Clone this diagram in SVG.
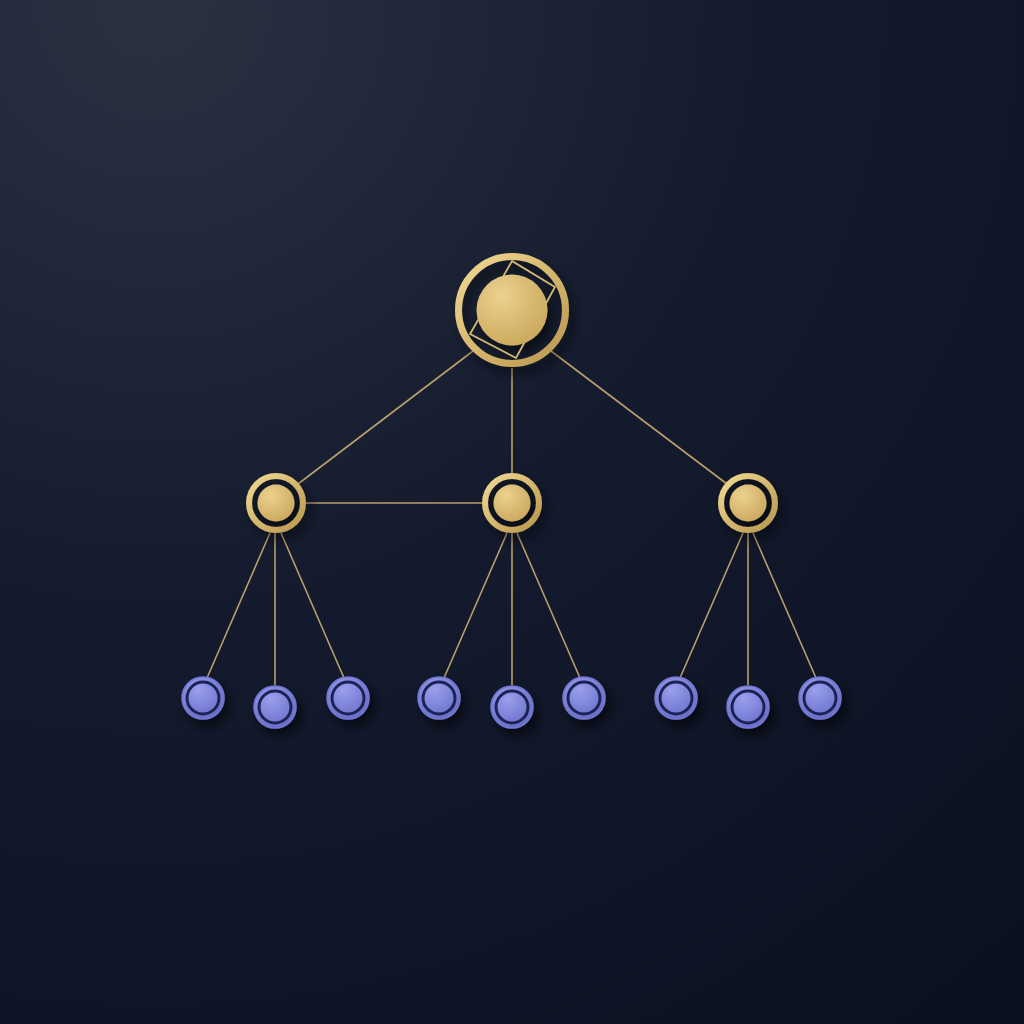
<svg xmlns="http://www.w3.org/2000/svg" width="1024" height="1024" viewBox="0 0 1024 1024">
<defs>
<radialGradient id="bg" cx="0.15" cy="0" r="1.3">
<stop offset="0" stop-color="#2a3242"/>
<stop offset="0.45" stop-color="#141b2e"/>
<stop offset="1" stop-color="#0b1020"/>
</radialGradient>
<linearGradient id="gold" x1="0" y1="0" x2="1" y2="1">
<stop offset="0" stop-color="#f0d893"/>
<stop offset="0.5" stop-color="#d6b86e"/>
<stop offset="1" stop-color="#b8964f"/>
</linearGradient>
<radialGradient id="goldDisc" cx="0.35" cy="0.3" r="0.8">
<stop offset="0" stop-color="#ecd18e"/>
<stop offset="1" stop-color="#c9a65a"/>
</radialGradient>
<radialGradient id="blue" cx="0.4" cy="0.3" r="0.8">
<stop offset="0" stop-color="#9aa0ec"/>
<stop offset="1" stop-color="#6268c4"/>
</radialGradient>
<filter id="sh" x="-50%" y="-50%" width="200%" height="200%">
<feDropShadow dx="5" dy="7" stdDeviation="6" flood-color="#000" flood-opacity="0.6"/>
</filter>
</defs>
<style>
.ln{stroke:#b9a06c;stroke-width:1.6;fill:none}
.ring{fill:none;stroke:url(#gold)}
.leaf{fill:url(#blue);stroke:#7378d2;stroke-width:1.5}
.leafring{fill:none;stroke:#1f2455;stroke-width:3}
.sq{fill:none;stroke:#d9bd74;stroke-width:1.6}
</style>
<rect width="1024" height="1024" fill="url(#bg)"/>
<g id="connectors">
<line class="ln" x1="473" y1="351" x2="298" y2="484"/>
<line class="ln" x1="512" y1="368" x2="512" y2="473"/>
<line class="ln" x1="551" y1="351" x2="727" y2="484"/>
<line class="ln" x1="305" y1="503" x2="482" y2="503"/>
<line class="ln" x1="270" y1="533" x2="207" y2="678"/>
<line class="ln" x1="275" y1="533" x2="275" y2="685"/>
<line class="ln" x1="281" y1="533" x2="344" y2="678"/>
<line class="ln" x1="507" y1="533" x2="444" y2="678"/>
<line class="ln" x1="512" y1="533" x2="512" y2="685"/>
<line class="ln" x1="517" y1="533" x2="580" y2="678"/>
<line class="ln" x1="743" y1="533" x2="680" y2="678"/>
<line class="ln" x1="748" y1="533" x2="748" y2="685"/>
<line class="ln" x1="753" y1="533" x2="816" y2="678"/>
</g>
<g id="root" filter="url(#sh)">
<circle cx="512" cy="310" r="53.5" class="ring" stroke-width="7"/>
<polygon class="sq" points="512,261 555,287 516,358 470,334"/>
<circle cx="512" cy="310" r="35.5" fill="url(#goldDisc)"/>
</g>
<g id="mid-left" filter="url(#sh)">
<circle cx="276" cy="503" r="27" class="ring" stroke-width="6"/>
<circle cx="276" cy="503" r="18.5" fill="url(#goldDisc)"/>
</g>
<g id="mid-center" filter="url(#sh)">
<circle cx="512" cy="503" r="27" class="ring" stroke-width="6"/>
<circle cx="512" cy="503" r="18.5" fill="url(#goldDisc)"/>
</g>
<g id="mid-right" filter="url(#sh)">
<circle cx="748" cy="503" r="27" class="ring" stroke-width="6"/>
<circle cx="748" cy="503" r="18.5" fill="url(#goldDisc)"/>
</g>
<g id="leaf-1" filter="url(#sh)"><circle cx="203" cy="698" r="21" class="leaf"/><circle cx="203" cy="698" r="16" class="leafring"/></g>
<g id="leaf-2" filter="url(#sh)"><circle cx="275" cy="707" r="21" class="leaf"/><circle cx="275" cy="707" r="16" class="leafring"/></g>
<g id="leaf-3" filter="url(#sh)"><circle cx="348" cy="698" r="21" class="leaf"/><circle cx="348" cy="698" r="16" class="leafring"/></g>
<g id="leaf-4" filter="url(#sh)"><circle cx="439" cy="698" r="21" class="leaf"/><circle cx="439" cy="698" r="16" class="leafring"/></g>
<g id="leaf-5" filter="url(#sh)"><circle cx="512" cy="707" r="21" class="leaf"/><circle cx="512" cy="707" r="16" class="leafring"/></g>
<g id="leaf-6" filter="url(#sh)"><circle cx="584" cy="698" r="21" class="leaf"/><circle cx="584" cy="698" r="16" class="leafring"/></g>
<g id="leaf-7" filter="url(#sh)"><circle cx="676" cy="698" r="21" class="leaf"/><circle cx="676" cy="698" r="16" class="leafring"/></g>
<g id="leaf-8" filter="url(#sh)"><circle cx="748" cy="707" r="21" class="leaf"/><circle cx="748" cy="707" r="16" class="leafring"/></g>
<g id="leaf-9" filter="url(#sh)"><circle cx="820" cy="698" r="21" class="leaf"/><circle cx="820" cy="698" r="16" class="leafring"/></g>
</svg>
